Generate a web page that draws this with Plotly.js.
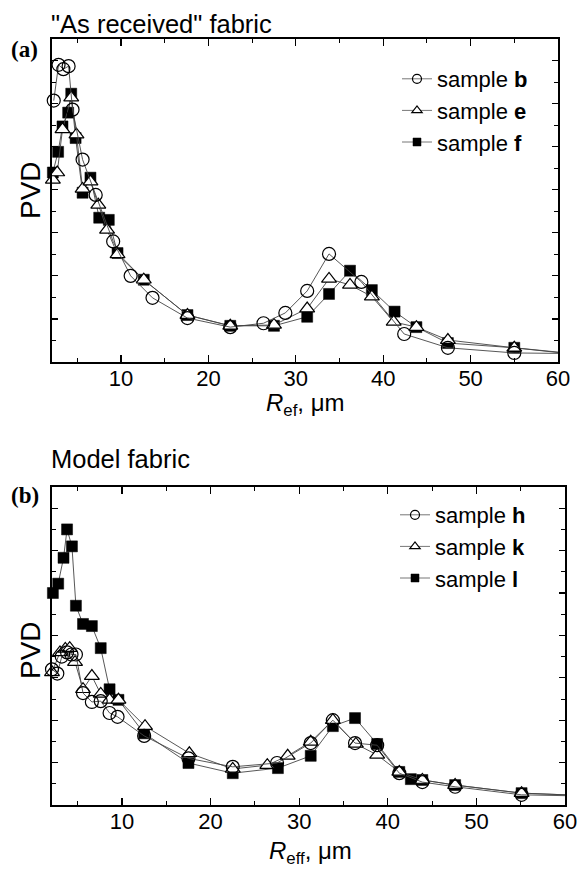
<!DOCTYPE html>
<html>
<head>
<meta charset="utf-8">
<script src="https://cdn.plot.ly/plotly-3.0.1.min.js"></script>
<style>html,body{margin:0;padding:0;background:#fff;}#chart{width:580px;height:878px;}</style>
</head>
<body>
<div id="chart"></div>
<script>
// ---- Panel (a): "As received" fabric ----
var xB = [2.3, 2.85, 3.4, 4.0, 4.45, 5.6, 7.1, 9.1, 11.1, 13.6, 17.6, 22.5, 26.3, 28.8, 31.3, 33.8, 37.5, 42.4, 47.4, 55.0, 60];
var yB = [6.07, 6.9, 6.8, 6.87, 5.86, 4.7, 3.88, 2.8, 2.0, 1.49, 1.02, 0.81, 0.9, 1.14, 1.65, 2.51, 1.86, 0.65, 0.33, 0.21, 0.2];

var xE = [2.2, 2.7, 3.3, 4.3, 4.9, 5.6, 6.5, 7.4, 8.4, 9.6, 12.6, 17.6, 22.5, 27.5, 31.3, 33.8, 36.2, 38.7, 41.2, 43.8, 47.4, 55.0, 60];
var yE = [4.23, 4.4, 5.4, 6.14, 5.28, 4.02, 4.19, 3.65, 3.07, 2.5, 1.91, 1.09, 0.84, 0.86, 1.24, 1.93, 1.79, 1.52, 0.93, 0.81, 0.51, 0.33, 0.22];

var xF = [2.2, 2.8, 3.3, 3.95, 4.3, 4.8, 5.6, 6.5, 7.5, 8.6, 9.6, 12.6, 17.6, 22.5, 27.5, 31.3, 33.8, 36.2, 38.7, 41.3, 43.8, 47.4, 55.0, 60];
var yF = [4.4, 4.88, 5.47, 5.79, 6.23, 5.2, 3.93, 4.28, 3.35, 3.3, 2.53, 1.91, 1.09, 0.84, 0.84, 1.05, 1.58, 2.12, 1.67, 1.17, 0.81, 0.44, 0.33, 0.23];

// ---- Panel (b): Model fabric ----
var xH = [2.1, 2.7, 3.2, 3.8, 4.3, 4.8, 5.6, 6.6, 7.6, 8.6, 9.5, 12.5, 17.5, 22.5, 27.5, 31.3, 33.8, 36.3, 38.8, 41.3, 43.9, 47.6, 55.1, 60];
var yH = [3.2, 3.1, 3.5, 3.6, 3.55, 3.55, 2.64, 2.43, 2.45, 2.17, 2.08, 1.63, 1.1, 0.9, 0.99, 1.46, 2.0, 1.46, 1.41, 0.75, 0.54, 0.43, 0.24, 0.22];

var xK = [2.1, 3.0, 3.6, 4.1, 4.7, 5.6, 6.6, 7.6, 8.6, 9.6, 12.6, 17.6, 22.5, 26.4, 28.7, 31.3, 33.8, 36.4, 38.8, 41.3, 43.9, 47.6, 55.1, 60];
var yK = [3.13, 3.6, 3.68, 3.7, 3.37, 2.73, 3.04, 2.62, 2.48, 2.48, 1.86, 1.22, 0.85, 0.94, 1.16, 1.49, 2.0, 1.44, 1.18, 0.78, 0.59, 0.47, 0.28, 0.24];

var xL = [2.2, 2.8, 3.4, 3.8, 4.35, 4.8, 5.6, 6.6, 7.6, 8.6, 9.6, 12.5, 17.5, 22.5, 27.6, 31.3, 33.8, 36.3, 38.8, 41.3, 42.6, 43.9, 47.6, 55.1, 60];
var yL = [5.0, 5.22, 5.83, 6.5, 6.1, 4.7, 4.27, 4.22, 3.7, 2.73, 2.48, 1.69, 0.99, 0.75, 0.87, 1.16, 1.86, 2.05, 1.44, 0.78, 0.61, 0.59, 0.47, 0.28, 0.24];

var namesA = ['sample <b>b</b>', 'sample <b>e</b>', 'sample <b>f</b>'];
var namesB = ['sample <b>h</b>', 'sample <b>k</b>', 'sample <b>l</b>'];

var LINE = {color: '#444', width: 0.9};
var sty = {
  circle: {symbol: 'circle-open', color: '#000', opacity: 1, line: {color: '#000', width: 1.2}},
  tri: {symbol: 'triangle-up', color: '#fff', opacity: 1, line: {color: '#000', width: 1.2}},
  sq: {symbol: 'square', color: '#000', opacity: 1, line: {color: '#000', width: 0.5}}
};
var bigSize = {circle: 13, tri: 13, sq: 11};
var smallSize = {circle: 9, tri: 9, sq: 8};

function sizes(xs, s) { // last point is the tail to the axis edge: no marker
  return xs.map(function (_, i) { return i === xs.length - 1 ? 0 : s; });
}
function dataTrace(xs, ys, kind, xa, ya) {
  var m = Object.assign({}, sty[kind], {size: sizes(xs, bigSize[kind])});
  return {x: xs, y: ys, xaxis: xa, yaxis: ya, type: 'scatter', mode: 'lines+markers',
          line: LINE, marker: m, showlegend: false, cliponaxis: false, hoverinfo: 'skip'};
}
function legendTrace(name, kind, xa, ya, lg, rank) {
  var m = Object.assign({}, sty[kind], {size: smallSize[kind]});
  return {x: [null], y: [null], xaxis: xa, yaxis: ya, type: 'scatter', mode: 'lines+markers',
          name: name, line: {color: '#777', width: 1}, marker: m, legend: lg, legendrank: rank};
}

var traces = [
  dataTrace(xF, yF, 'sq', 'x', 'y'),
  dataTrace(xE, yE, 'tri', 'x', 'y'),
  dataTrace(xB, yB, 'circle', 'x', 'y'),
  dataTrace(xL, yL, 'sq', 'x2', 'y2'),
  dataTrace(xK, yK, 'tri', 'x2', 'y2'),
  dataTrace(xH, yH, 'circle', 'x2', 'y2'),
  legendTrace(namesA[0], 'circle', 'x', 'y', 'legend', 1),
  legendTrace(namesA[1], 'tri', 'x', 'y', 'legend', 2),
  legendTrace(namesA[2], 'sq', 'x', 'y', 'legend', 3),
  legendTrace(namesB[0], 'circle', 'x2', 'y2', 'legend2', 1),
  legendTrace(namesB[1], 'tri', 'x2', 'y2', 'legend2', 2),
  legendTrace(namesB[2], 'sq', 'x2', 'y2', 'legend2', 3)
];

var W = 580, H = 878;
function px(v) { return v / W; }
function py(v) { return 1 - v / H; }
var FONT = 'Liberation Sans, Arial, Helvetica, sans-serif';
var SERIF = 'Liberation Serif, Times New Roman, serif';

function xAx(d0, d1, anchor) {
  return {domain: [px(d0), px(d1)], anchor: anchor, range: [2.1, 60], tick0: 0, dtick: 10,
          ticks: 'inside', ticklen: 7, tickwidth: 1.2, tickcolor: '#000',
          showline: true, linewidth: 1.6, linecolor: '#000', mirror: 'ticks',
          showgrid: false, zeroline: false, ticklabelstandoff: -4,
          tickfont: {family: FONT, size: 22, color: '#000'},
          minor: {ticks: 'inside', ticklen: 4, dtick: 5, tick0: 0, tickwidth: 1, tickcolor: '#000', showgrid: false}};
}
function yAx(d0, d1, anchor) {
  return {domain: [py(d1), py(d0)], anchor: anchor, range: [0, 7.5], tick0: 0, dtick: 1,
          ticks: 'inside', ticklen: 6, tickwidth: 1.2, tickcolor: '#000', showticklabels: false,
          showline: true, linewidth: 1.6, linecolor: '#000', mirror: 'ticks',
          showgrid: false, zeroline: false,
          minor: {ticks: 'inside', ticklen: 4, dtick: 0.5, tick0: 0, tickwidth: 1, tickcolor: '#000', showgrid: false}};
}

function ann(text, x, y, opts) {
  return Object.assign({text: text, x: px(x), y: py(y), xref: 'paper', yref: 'paper',
    showarrow: false, xanchor: 'center', yanchor: 'middle',
    font: {family: FONT, size: 24, color: '#000'}}, opts || {});
}

var layout = {
  width: W, height: H,
  margin: {l: 0, r: 0, t: 0, b: 0},
  paper_bgcolor: '#fff', plot_bgcolor: '#fff',
  font: {family: FONT, color: '#000'},
  xaxis: xAx(52, 558, 'y'),
  yaxis: yAx(39, 362, 'x'),
  xaxis2: xAx(52, 565, 'y2'),
  yaxis2: yAx(487, 805, 'x2'),
  legend: {x: px(397), y: py(58), xanchor: 'left', yanchor: 'top', bgcolor: 'rgba(0,0,0,0)',
           tracegroupgap: 0, font: {family: FONT, size: 22, color: '#000'}},
  legend2: {x: px(395), y: py(494), xanchor: 'left', yanchor: 'top', bgcolor: 'rgba(0,0,0,0)',
            tracegroupgap: 0, font: {family: FONT, size: 22, color: '#000'}},
  annotations: [
    ann('"As received" fabric', 49, 24, {xanchor: 'left', font: {family: FONT, size: 25.5, color: '#000'}}),
    ann('<b>(a)</b>', 9, 49, {xanchor: 'left', font: {family: SERIF, size: 23, color: '#000'}}),
    ann('Model fabric', 49, 459, {xanchor: 'left', font: {family: FONT, size: 25.5, color: '#000'}}),
    ann('<b>(b)</b>', 9, 495, {xanchor: 'left', font: {family: SERIF, size: 23, color: '#000'}}),
    ann('PVD', 30, 190, {textangle: -90, font: {family: FONT, size: 28, color: '#000'}}),
    ann('PVD', 30, 650, {textangle: -90, font: {family: FONT, size: 28, color: '#000'}}),
    ann('<i>R</i><sub>ef</sub>, \u03bcm', 305, 405),
    ann('<i>R</i><sub>eff</sub>, \u03bcm', 310, 852)
  ]
};

Plotly.newPlot('chart', traces, layout, {staticPlot: true, displayModeBar: false});
</script>
</body>
</html>
